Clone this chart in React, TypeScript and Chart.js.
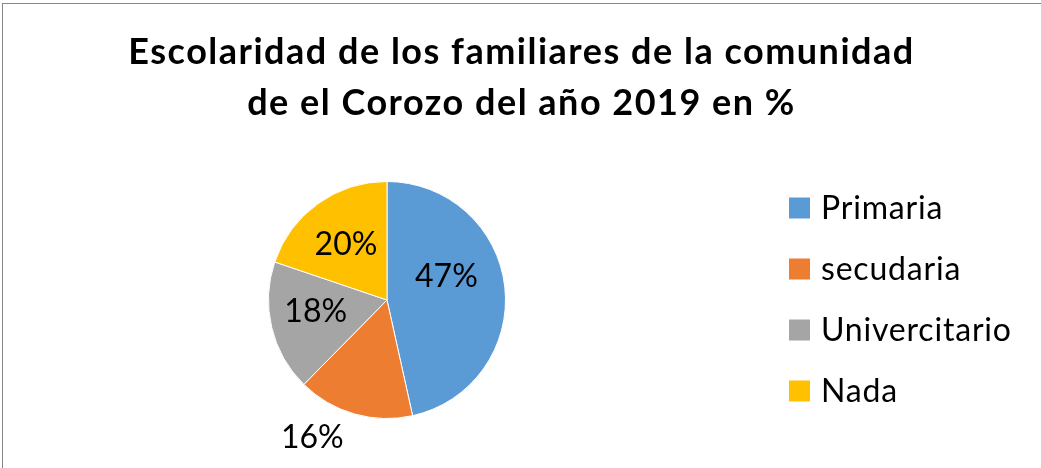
import React, { useEffect, useRef } from "react";
import { Chart, registerables } from "chart.js";

Chart.register(...registerables);

const titleLines = ["Escolaridad de los familiares de la comunidad", "de el Corozo del año 2019 en %"];
const categories = ["Primaria", "secudaria", "Univercitario", "Nada"];
const values = [47, 16, 18, 20];
const valueLabels = ["47%", "16%", "18%", "20%"];
const sliceColors = ["#5B9BD5", "#ED7D31", "#A5A5A5", "#FFC000"];

const FONT = "Lato, 'Liberation Sans', sans-serif";

const framePlugin = {
  id: "frame",
  beforeDraw(chart: any) {
    const ctx = chart.ctx;
    ctx.save();
    ctx.fillStyle = "#ffffff";
    ctx.fillRect(0, 0, chart.width, chart.height);
    ctx.strokeStyle = "#868686";
    ctx.lineWidth = 1;
    ctx.strokeRect(2.5, 3.5, chart.width + 20, chart.height + 20);
    ctx.restore();
  },
};

const titlePlugin = {
  id: "wideTitle",
  afterDraw(chart: any) {
    const ctx = chart.ctx;
    ctx.save();
    ctx.font = `bold 36px ${FONT}`;
    (ctx as any).letterSpacing = "1.5px";
    ctx.fillStyle = "#000000";
    ctx.textAlign = "center";
    ctx.textBaseline = "alphabetic";
    const baselines = [63.5, 115];
    titleLines.forEach((line, i) => {
      ctx.fillText(line, chart.width / 2 + 1, baselines[i]);
    });
    ctx.restore();
  },
};

// label placement: radius factor and angle shift (degrees) relative to slice middle
const labelRadius = [0.54, 1.32, 0.61, 0.58];
const labelShift = [-15.6, 12.5, 3.8, -1];

const sliceLabelPlugin = {
  id: "sliceLabels",
  afterDatasetsDraw(chart: any) {
    const ctx = chart.ctx;
    const meta = chart.getDatasetMeta(0);
    ctx.save();
    ctx.font = `32px ${FONT}`;
    ctx.fillStyle = "#000000";
    ctx.textAlign = "center";
    ctx.textBaseline = "middle";
    meta.data.forEach((arc: any, i: number) => {
      const p = arc.getProps(["x", "y", "startAngle", "endAngle", "outerRadius"], true);
      const mid = (p.startAngle + p.endAngle) / 2 + (labelShift[i] * Math.PI) / 180;
      const r = p.outerRadius * labelRadius[i];
      ctx.fillText(valueLabels[i], p.x + Math.cos(mid) * r, p.y + Math.sin(mid) * r);
    });
    ctx.restore();
  },
};

const legendPlugin = {
  id: "sideLegend",
  afterDraw(chart: any) {
    const ctx = chart.ctx;
    const ds = chart.data.datasets[0];
    ctx.save();
    ctx.font = `32px ${FONT}`;
    (ctx as any).letterSpacing = "0.8px";
    ctx.textBaseline = "middle";
    ctx.textAlign = "left";
    const x0 = chart.chartArea.right + 15;
    const y0 = 208;
    const step = 61;
    chart.data.labels.forEach((lab: string, i: number) => {
      const cy = y0 + i * step;
      ctx.fillStyle = ds.backgroundColor[i];
      ctx.fillRect(x0, cy - 10.5, 21, 21);
      ctx.fillStyle = "#000000";
      ctx.fillText(lab, x0 + 32, cy + 1);
    });
    ctx.restore();
  },
};

export default function App() {
  const ref = useRef<HTMLCanvasElement | null>(null);
  useEffect(() => {
    if (!ref.current) return;
    const chart = new Chart(ref.current, {
      type: "pie",
      data: {
        labels: categories,
        datasets: [
          {
            data: values,
            backgroundColor: sliceColors,
            borderColor: "#ffffff",
            borderWidth: 1,
          },
        ],
      },
      options: {
        responsive: false,
        animation: false,
        layout: { padding: { top: 181, left: 0, right: 267, bottom: 49 } },
        plugins: {
          legend: { display: false },
          tooltip: { enabled: false },
          title: { display: false },
        },
      },
      plugins: [framePlugin, sliceLabelPlugin, legendPlugin, titlePlugin],
    });
    return () => chart.destroy();
  }, []);
  return (
    <div style={{ position: "absolute", left: 0, top: 0, width: 1041, height: 468 }}>
      <canvas ref={ref} width={1041} height={468} style={{ display: "block" }} />
    </div>
  );
}
